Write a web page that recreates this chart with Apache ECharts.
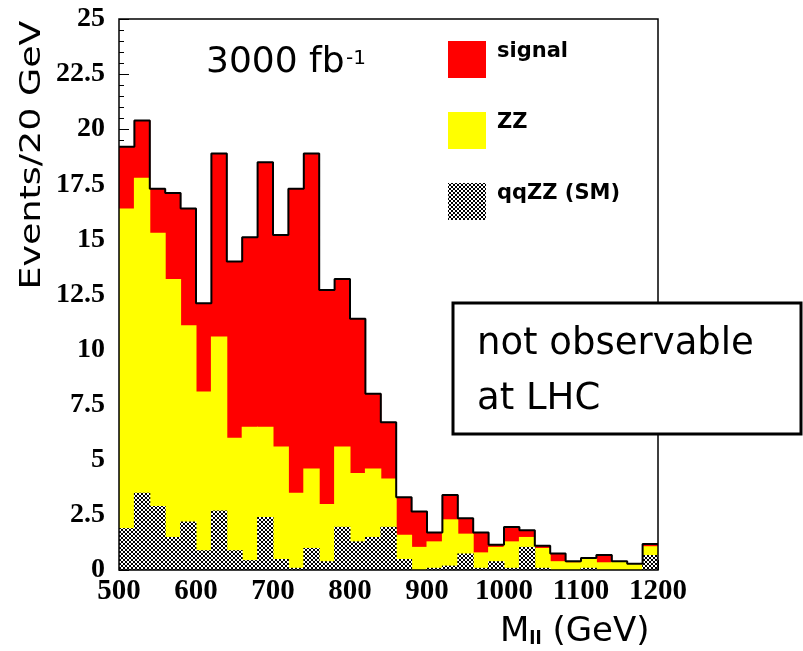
<!DOCTYPE html>
<html>
<head>
<meta charset="utf-8">
<script src="https://cdn.jsdelivr.net/npm/echarts@6/dist/echarts.min.js"></script>
<style>
html,body{margin:0;padding:0;background:#fff;}
#c{width:803px;height:651px;}
</style>
</head>
<body>
<div id="c"></div>
<script>
// ---- data ----
const binStart = [500,520,540,560,580,600,620,640,660,680,700,720,740,760,780,800,820,840,860,880,900,920,940,960,980,1000,1020,1040,1060,1080,1100,1120,1140,1160,1180];
const binWidth = 20;
// top of the full stack (signal + ZZ + qqZZ)
const signalTop = [19.2,20.4,17.3,17.1,16.4,12.1,18.9,14.0,15.1,18.5,15.2,17.3,18.9,12.7,13.2,11.4,8.0,6.7,3.3,2.65,1.7,3.4,2.35,1.7,1.15,1.95,1.8,1.1,0.75,0.4,0.55,0.68,0.4,0.28,1.18];
// top of the background stack (ZZ + qqZZ)
const zzTop = [16.4,17.8,15.3,13.2,11.1,8.1,10.6,6.0,6.5,6.5,5.6,3.5,4.6,3.0,5.6,4.4,4.6,4.15,1.6,1.05,1.3,2.3,1.65,0.8,1.05,1.3,1.5,1.0,0.4,0.35,0.55,0.35,0.4,0.28,1.08];
// qqZZ (SM)
const qqzz = [1.9,3.5,2.9,1.5,2.2,0.9,2.7,0.9,0.45,2.4,0.5,0.1,1.0,0.4,1.96,1.3,1.5,1.96,0.5,0,0.1,0.2,0.75,0.1,0.4,0.1,1.05,0.1,0,0,0.1,0,0,0,0.68];
const seriesNames = ['signal','ZZ','qqZZ (SM)'];
const yMin = 0, yMax = 25, yStep = 2.5;
const xMin = 500, xMax = 1200, xStep = 100;

// ---- layout ----
const G = {left:119, top:19, width:539, height:551};
const barPx = G.width / binStart.length + 1;   // slight overlap to avoid seams

// checkered pattern for qqZZ
const pc = document.createElement('canvas');
pc.width = 4; pc.height = 4;
const g = pc.getContext('2d');
g.fillStyle = '#000'; g.fillRect(0,0,4,4);
g.fillStyle = '#fff';
[[1,0],[2,0],[0,1],[3,1],[0,2],[3,2],[1,3],[2,3]].forEach(p => g.fillRect(p[0],p[1],1,1));
const pattern = {image: pc, repeat: 'repeat'};

const outline = binStart.map((x,i) => [x, signalTop[i]]);
outline.push([binStart[binStart.length-1] + binWidth, signalTop[signalTop.length-1]]);

const chart = echarts.init(document.getElementById('c'), null, {renderer:'canvas'});
const labelFont = {fontFamily:'Liberation Serif', fontWeight:'bold', color:'#000'};

chart.setOption({
  animation:false,
  backgroundColor:'#fff',
  grid:{left:G.left, top:G.top, width:G.width, height:G.height, show:false},
  xAxis:[
    {type:'category', data:binStart, show:false, boundaryGap:true},
    {type:'value', min:xMin, max:xMax, interval:xStep, position:'bottom',
     axisLine:{show:false},
     axisTick:{show:true, inside:true, length:10, lineStyle:{color:'#000'}},
     minorTick:{show:true, splitNumber:5, length:5, lineStyle:{color:'#000'}},
     splitLine:{show:false},
     axisLabel:Object.assign({fontSize:29, margin:7, formatter:v => String(v)}, labelFont)}
  ],
  yAxis:{type:'value', min:yMin, max:yMax, interval:yStep,
     axisLine:{show:false},
     axisTick:{show:true, inside:true, length:10, lineStyle:{color:'#000'}},
     minorTick:{show:true, splitNumber:5, length:5, lineStyle:{color:'#000'}},
     splitLine:{show:false},
     axisLabel:Object.assign({fontSize:28, margin:14}, labelFont)},
  legend:{data:seriesNames, orient:'vertical', left:443, top:36, itemWidth:38, itemHeight:37,
     itemGap:34, icon:'rect', selectedMode:false,
     formatter:'{t|{name}}',
     textStyle:{fontFamily:'DejaVu Sans', fontSize:21, fontWeight:'bold', color:'#000',
       rich:{t:{fontFamily:'DejaVu Sans', fontSize:21, fontWeight:'bold', color:'#000', padding:[0,0,16,6]}}}},
  series:[
    {name:seriesNames[0], type:'bar', xAxisIndex:0, data:signalTop, barGap:'-100%', barWidth:barPx,
     itemStyle:{color:'#ff0000'}, silent:true},
    {name:seriesNames[1], type:'bar', xAxisIndex:0, data:zzTop, barGap:'-100%', barWidth:barPx,
     itemStyle:{color:'#ffff00'}, silent:true},
    {name:seriesNames[2], type:'bar', xAxisIndex:0, data:qqzz, barGap:'-100%', barWidth:barPx,
     itemStyle:{color:pattern}, silent:true},
    {type:'line', xAxisIndex:1, step:'end', data:outline, symbol:'none', z:5, silent:true,
     lineStyle:{color:'#000', width:2}}
  ],
  graphic:[
    {type:'rect', z:100, silent:true,
     shape:{x:G.left, y:G.top, width:G.width, height:G.height},
     style:{fill:'none', stroke:'#000', lineWidth:1.5}},
    {type:'text', z:100, x:206, y:63,
     style:{text:'3000 fb', font:'36px "DejaVu Sans"', fill:'#000', verticalAlign:'middle', align:'left'}},
    {type:'text', z:100, x:346, y:59,
     style:{text:'-1', font:'20px "DejaVu Sans"', fill:'#000', verticalAlign:'middle', align:'left'}},
    {type:'text', z:100, x:33, y:155, rotation:Math.PI/2, scaleX:1.3,
     style:{text:'Events/20 GeV', font:'28px "DejaVu Sans"', fill:'#000', verticalAlign:'middle', align:'center'}},
    {type:'text', z:100, x:500, y:632,
     style:{text:'{m|M}{s|ll}{m| (GeV)}', fill:'#000', verticalAlign:'middle', align:'left',
       rich:{m:{font:'34px "DejaVu Sans"', fill:'#000'},
             s:{font:'bold 18px "DejaVu Sans"', fill:'#000', padding:[14,0,0,0]}}}},
    {type:'rect', z:200, silent:true,
     shape:{x:453, y:303, width:348, height:131},
     style:{fill:'#fff', stroke:'#000', lineWidth:3}},
    {type:'text', z:201, x:477, y:344,
     style:{text:'not observable', font:'37px "DejaVu Sans"', fill:'#000', verticalAlign:'middle', align:'left'}},
    {type:'text', z:201, x:477, y:399,
     style:{text:'at LHC', font:'37px "DejaVu Sans"', fill:'#000', verticalAlign:'middle', align:'left'}}
  ]
});
</script>
</body>
</html>
